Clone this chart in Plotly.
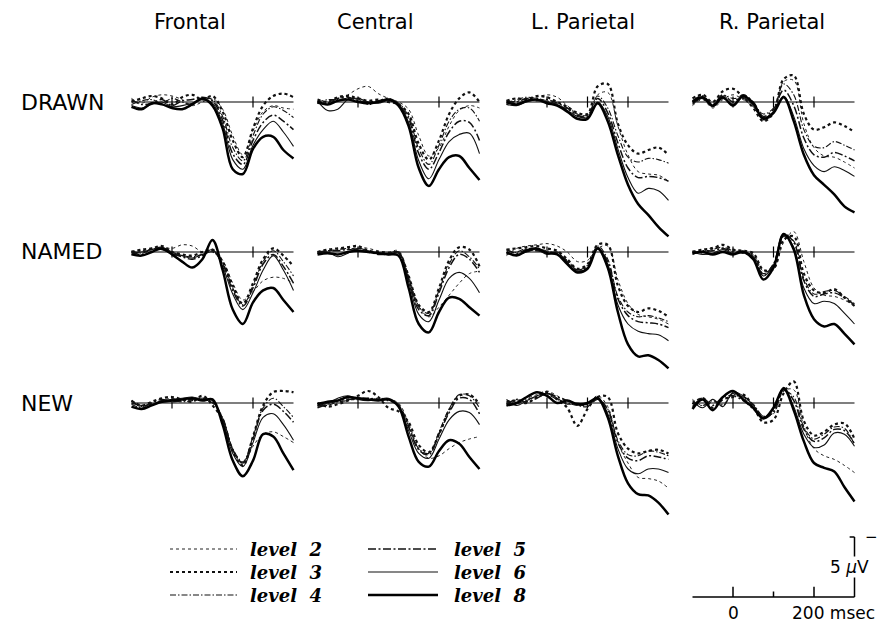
import plotly.graph_objects as go

# ---------------- data ----------------
times = [-100, -75, -50, -25, 0, 25, 50, 75, 100, 125, 150, 175, 200, 225, 250, 275, 300]
regions = ["Frontal", "Central", "L. Parietal", "R. Parietal"]
conditions = ["DRAWN", "NAMED", "NEW"]
levels = ["level 2", "level 3", "level 4", "level 5", "level 6", "level 8"]

# µV, positive plotted downward; order: level 2, 3, 4, 5, 6, 8
frontal_drawn = [
    [-0.3, 0.1, -0.4, -0.6, -0.5, -0.2, 0.3, 0.0, -0.3, 0.6, 2.8, 4.4, 2.4, 0.8, 0.3, 0.5, 0.6],
    [0.0, -0.3, -0.5, -0.3, 0.2, -0.4, -0.6, -0.2, -0.5, 0.8, 3.2, 4.6, 2.2, 0.3, -0.5, -0.7, -0.4],
    [0.2, -0.1, -0.2, 0.1, -0.3, 0.0, 0.2, -0.3, -0.2, 1.2, 3.8, 4.9, 2.8, 1.0, 0.4, 0.7, 1.3],
    [-0.2, 0.2, 0.1, -0.2, 0.3, -0.1, -0.2, -0.4, -0.1, 1.5, 4.3, 5.2, 3.2, 1.7, 1.1, 1.6, 2.3],
    [0.3, 0.5, 0.2, 0.0, 0.4, 0.3, 0.1, -0.2, 0.1, 1.8, 4.8, 5.6, 3.6, 2.3, 1.6, 2.5, 3.7],
    [0.4, 0.6, 0.1, 0.2, 0.5, 0.6, 0.2, -0.3, 0.3, 2.2, 5.6, 6.0, 3.9, 2.9, 2.9, 4.0, 4.7],
]
central_drawn = [
    [0.1, -0.1, -0.3, -0.6, -1.1, -1.3, -0.7, -0.3, 0.0, 0.6, 2.8, 4.5, 3.8, 2.0, 0.7, 0.3, 0.5],
    [-0.2, 0.0, -0.4, -0.5, -0.3, -0.1, -0.2, 0.0, 0.2, 1.0, 3.5, 4.8, 3.2, 1.0, -0.3, -0.8, 0.0],
    [0.0, -0.2, -0.2, -0.3, -0.2, 0.2, 0.0, -0.2, 0.1, 1.2, 3.9, 5.2, 3.6, 1.6, 0.6, 0.5, 1.6],
    [0.1, 0.1, -0.3, -0.4, -0.1, 0.0, -0.1, -0.3, 0.2, 1.4, 4.3, 5.6, 4.2, 2.5, 1.6, 1.7, 3.2],
    [-0.1, 0.7, 0.6, -0.2, -0.3, 0.0, 0.1, -0.1, 0.2, 1.7, 4.9, 6.4, 4.8, 3.3, 2.7, 2.6, 4.3],
    [0.0, 0.2, -0.1, -0.2, 0.0, 0.1, 0.0, -0.2, 0.3, 2.0, 5.5, 7.0, 5.6, 4.6, 4.5, 5.5, 6.5],
]
lpar_drawn = [
    [0.2, -0.1, -0.3, -0.4, -0.6, -0.4, 0.3, 1.0, 1.3, -0.6, -0.8, 2.0, 4.4, 5.8, 6.0, 6.1, 6.6],
    [-0.1, -0.3, -0.2, -0.5, -0.4, 0.0, 0.4, 0.9, 1.0, -1.3, -1.5, 1.8, 3.6, 4.3, 4.0, 3.8, 4.4],
    [0.1, -0.2, -0.4, -0.3, -0.1, 0.2, 0.6, 1.0, 1.1, -0.5, 0.5, 2.8, 4.6, 5.0, 4.7, 4.8, 5.1],
    [-0.1, 0.0, -0.3, -0.1, -0.2, 0.1, 0.5, 1.1, 1.2, -0.3, 0.9, 3.4, 5.5, 6.3, 6.2, 6.3, 6.6],
    [0.2, 0.3, 0.0, -0.2, 0.0, 0.2, 0.7, 1.2, 1.3, 0.0, 1.2, 3.9, 6.3, 7.6, 7.2, 7.4, 8.2],
    [0.0, 0.2, -0.1, -0.2, 0.1, 0.3, 0.8, 1.4, 1.4, 0.1, 1.6, 4.4, 6.9, 8.5, 9.4, 10.4, 11.2],
]
rpar_drawn = [
    [0.3, -0.2, 0.5, -0.2, -0.6, -0.2, 0.4, 1.5, 1.0, -1.7, -1.8, 1.8, 3.8, 4.5, 4.6, 5.0, 5.5],
    [-0.3, -0.6, 0.0, -0.9, -1.1, -0.4, 0.5, 1.6, 0.9, -1.9, -2.2, 1.0, 2.3, 2.1, 1.7, 2.0, 2.5],
    [0.1, -0.3, 0.3, -0.5, -0.3, -0.3, 0.2, 1.0, 0.5, -1.5, -0.6, 2.3, 3.7, 3.8, 3.3, 3.6, 4.0],
    [-0.1, -0.5, 0.2, -0.6, 0.0, -0.6, 0.0, 1.2, 0.6, -1.0, 0.3, 3.0, 4.4, 4.6, 4.2, 4.5, 4.9],
    [0.2, -0.3, 0.4, -0.3, 0.2, -0.4, 0.3, 1.3, 0.8, -0.5, 1.2, 3.9, 5.3, 5.8, 5.4, 5.7, 6.2],
    [0.0, -0.4, 0.3, -0.4, 0.3, -0.5, 0.1, 1.4, 0.9, -0.4, 1.6, 4.4, 6.1, 6.9, 7.7, 8.7, 9.2],
]
frontal_named = [
    [0.2, -0.1, -0.2, -0.4, -0.3, -0.6, -0.5, 0.0, -0.1, 0.7, 2.6, 4.0, 3.3, 2.4, 2.1, 2.2, 2.6],
    [0.0, -0.2, -0.3, -0.5, 0.0, 0.2, 0.3, 0.0, -0.2, 0.8, 2.8, 4.3, 2.6, 0.6, -0.3, 0.3, 1.2],
    [-0.1, 0.1, -0.2, -0.3, 0.2, 0.3, 0.4, 0.2, 0.0, 0.9, 3.0, 4.4, 2.8, 0.8, -0.1, 0.8, 2.0],
    [0.0, 0.2, -0.3, -0.2, 0.1, 0.4, 0.6, 0.3, -0.1, 1.0, 3.2, 4.5, 3.0, 1.0, 0.2, 1.2, 2.6],
    [0.1, 0.0, -0.2, -0.4, 0.0, 0.3, 0.5, 0.2, -0.2, 1.2, 3.5, 4.8, 3.4, 1.5, 0.3, 1.5, 3.2],
    [0.2, 0.3, 0.0, -0.3, 0.2, 0.8, 1.3, 0.6, -1.0, 1.5, 4.8, 6.0, 4.2, 3.2, 3.0, 4.0, 5.0],
]
central_named = [
    [0.1, 0.0, -0.3, -0.2, -0.4, -0.3, -0.1, 0.0, -0.1, 2.0, 4.5, 5.4, 4.6, 3.6, 2.6, 1.8, 1.6],
    [0.0, -0.2, -0.3, -0.4, -0.5, -0.1, 0.0, 0.1, 0.1, 2.0, 4.4, 5.0, 3.0, 0.7, -0.4, -0.2, 1.2],
    [0.1, -0.1, -0.2, -0.3, -0.2, 0.0, 0.1, 0.1, 0.0, 2.2, 4.6, 5.1, 3.2, 1.0, -0.1, 0.4, 1.4],
    [0.0, -0.1, -0.1, -0.2, -0.1, 0.0, 0.2, 0.2, 0.1, 2.3, 4.8, 5.3, 3.4, 1.3, 0.2, 0.6, 1.7],
    [0.1, 0.0, 0.4, 0.1, -0.3, -0.1, 0.1, 0.1, 0.0, 2.5, 5.2, 5.8, 4.0, 2.2, 1.7, 2.2, 3.4],
    [0.2, 0.1, 0.2, 0.0, -0.1, 0.0, 0.1, 0.2, 0.3, 3.0, 6.0, 6.7, 5.0, 3.8, 3.9, 4.6, 5.3],
]
lpar_named = [
    [0.3, -0.3, -0.5, -0.6, -0.7, -0.5, 0.0, 0.8, 0.7, -0.3, -0.5, 2.3, 4.3, 5.2, 5.4, 5.6, 6.0],
    [-0.2, -0.3, -0.4, -0.5, -0.3, -0.1, 0.6, 1.4, 1.0, -0.6, -0.6, 2.8, 4.5, 5.0, 4.7, 4.9, 5.4],
    [0.2, 0.0, -0.3, -0.2, -0.1, 0.2, 0.7, 1.5, 1.1, -0.5, 0.6, 3.7, 5.0, 5.4, 5.3, 5.5, 5.8],
    [-0.2, 0.1, -0.2, -0.1, 0.0, 0.1, 0.8, 1.5, 1.2, -0.3, 0.8, 3.9, 5.3, 5.8, 5.9, 6.0, 6.3],
    [0.1, 0.2, 0.0, -0.2, 0.2, 0.0, 0.9, 1.6, 1.3, -0.4, 1.0, 4.4, 6.0, 6.6, 6.8, 6.9, 7.4],
    [0.0, 0.3, -0.1, -0.3, 0.1, 0.2, 1.0, 1.7, 1.4, -0.3, 1.3, 5.0, 7.7, 8.7, 8.6, 9.0, 9.7],
]
rpar_named = [
    [0.1, 0.0, -0.4, -0.3, -0.2, 0.0, 0.2, 1.6, 1.5, -0.8, -1.7, 0.8, 3.0, 3.6, 3.7, 4.0, 4.5],
    [0.0, -0.2, -0.3, -0.6, -0.2, -0.1, 0.1, 1.5, 1.4, -1.0, -1.3, 1.8, 3.2, 3.4, 3.1, 3.8, 4.5],
    [-0.1, 0.1, -0.2, -0.4, -0.1, 0.0, 0.3, 1.8, 1.0, -1.3, -0.9, 2.2, 3.5, 3.3, 3.2, 3.7, 4.3],
    [0.2, -0.1, -0.1, -0.3, 0.0, 0.1, 0.4, 1.9, 1.0, -1.5, -0.8, 2.4, 3.7, 3.5, 3.4, 3.8, 4.4],
    [0.0, 0.2, 0.1, -0.2, 0.1, -0.1, 0.5, 2.0, 1.1, -1.4, -0.4, 3.0, 4.3, 4.1, 4.3, 5.1, 6.0],
    [0.1, 0.0, 0.2, 0.0, 0.2, 0.0, 0.6, 2.3, 1.3, -1.5, -0.2, 3.6, 5.6, 6.2, 6.0, 6.8, 7.7],
]
frontal_new = [
    [0.0, 0.3, 0.1, -0.2, -0.4, -0.2, -0.3, -0.4, -0.1, 1.3, 3.9, 5.1, 3.6, 2.6, 2.4, 2.8, 3.3],
    [-0.2, 0.2, -0.1, -0.4, -0.5, -0.3, -0.1, -0.6, 0.2, 1.4, 4.0, 5.2, 2.8, 0.2, -0.9, -1.0, -0.9],
    [0.1, 0.4, 0.2, -0.1, -0.2, -0.1, -0.2, -0.3, 0.0, 1.2, 3.8, 4.9, 2.8, 0.4, -0.4, 0.3, 1.2],
    [-0.2, 0.3, 0.0, -0.3, -0.1, -0.2, -0.3, -0.4, -0.1, 1.3, 3.9, 5.0, 3.0, 0.6, 0.1, 0.7, 1.6],
    [0.0, 0.2, 0.1, -0.2, -0.3, -0.4, -0.5, -0.3, -0.2, 1.5, 4.2, 5.3, 3.3, 1.2, 0.9, 1.8, 3.1],
    [0.3, 0.5, 0.2, -0.1, -0.2, -0.3, -0.4, -0.2, -0.3, 1.8, 4.8, 6.1, 4.8, 2.6, 2.8, 4.2, 5.6],
]
central_new = [
    [0.3, 0.1, -0.3, -0.4, -0.3, -0.3, -0.4, -0.3, 0.0, 1.7, 3.8, 4.6, 4.4, 3.8, 3.3, 3.0, 2.8],
    [0.0, 0.3, 0.1, -0.2, -0.6, -1.0, -0.5, 0.4, 0.7, 1.6, 3.5, 4.1, 2.6, 0.6, -0.6, -0.7, 0.1],
    [0.2, 0.2, -0.1, -0.2, -0.4, -0.4, -0.3, -0.3, 0.1, 1.9, 3.8, 4.2, 2.4, 0.5, -0.7, -0.6, 0.4],
    [0.4, 0.1, -0.2, -0.3, -0.3, -0.4, -0.3, -0.2, 0.2, 2.0, 3.9, 4.3, 2.6, 0.8, -0.4, -0.3, 0.9],
    [0.2, 0.0, -0.4, -0.6, -0.3, -0.2, -0.3, -0.4, 0.2, 2.3, 4.2, 4.6, 3.0, 1.4, 0.7, 0.8, 1.8],
    [0.1, -0.1, -0.2, -0.5, -0.4, -0.3, -0.2, -0.3, 0.3, 2.8, 4.9, 5.3, 4.0, 3.1, 3.4, 4.5, 5.5],
]
lpar_new = [
    [0.2, -0.2, -0.4, -0.7, -1.0, -0.6, -0.2, 0.2, 0.1, -0.6, 0.3, 3.3, 5.0, 6.2, 6.3, 6.5, 7.1],
    [-0.1, -0.2, 0.0, -0.5, -0.9, -0.3, 0.4, 1.9, 0.5, -0.5, -0.5, 2.5, 3.8, 4.2, 4.0, 3.9, 4.2],
    [0.0, 0.1, -0.3, -0.5, -0.7, -0.3, 0.0, 0.2, 0.3, -0.3, 0.5, 3.1, 4.3, 4.4, 4.0, 4.1, 4.4],
    [0.1, -0.3, -0.1, -0.4, -0.8, -0.5, -0.2, 0.1, 0.2, -0.4, 0.6, 3.3, 4.6, 4.8, 4.4, 4.5, 4.7],
    [-0.3, 0.2, -0.2, -0.6, -0.8, -0.4, 0.1, 0.0, 0.1, -0.5, 0.9, 3.8, 5.5, 5.9, 5.5, 5.5, 5.8],
    [0.2, 0.0, -0.5, -0.9, -0.6, 0.0, -0.2, 0.1, 0.0, -0.4, 1.2, 4.4, 6.7, 7.6, 7.7, 8.3, 9.3],
]
rpar_new = [
    [-0.3, 0.2, -0.1, 0.1, -0.7, -0.4, 0.2, 1.1, 0.9, -1.0, -1.1, 2.0, 3.8, 4.4, 4.7, 5.2, 5.8],
    [0.1, -0.4, 0.4, -0.3, -0.5, -0.7, 0.3, 1.6, 1.4, -0.8, -1.8, 1.5, 2.7, 2.4, 1.8, 1.7, 3.0],
    [0.0, 0.2, -0.2, 0.2, -0.8, -0.5, 0.1, 1.1, 0.8, -1.0, -0.5, 2.0, 3.0, 2.6, 2.0, 2.1, 3.5],
    [0.3, -0.4, 0.2, -0.5, -0.6, -0.2, 0.5, 1.3, 0.7, -1.1, -0.2, 2.2, 3.2, 2.9, 2.2, 2.3, 3.4],
    [-0.2, 0.4, -0.3, 0.3, -0.9, -0.6, 0.2, 1.2, 0.5, -1.3, 0.3, 2.6, 3.7, 3.5, 2.5, 2.6, 3.6],
    [0.5, -0.3, 0.6, -0.5, -1.0, -0.3, 0.4, 1.3, 0.4, -1.2, 0.6, 3.2, 5.0, 5.4, 5.7, 7.0, 8.2],
]

panels = [
    [frontal_drawn, central_drawn, lpar_drawn, rpar_drawn],
    [frontal_named, central_named, lpar_named, rpar_named],
    [frontal_new, central_new, lpar_new, rpar_new],
]
baseline_ticks = [[0, 200], [0, 200], [0, 100, 200], [0, 100, 200]]
scale_ticks = [0, 100, 200]
scale_uv = 5

# ---------------- styles / layout geometry ----------------
W, H = 888, 622
PX_PER_MS = 0.405
PX_PER_UV = 12.0
col_zero_px = [172, 358, 547, 733]
row_base_px = [102, 252, 403]
XR = [-110, 310]
Y_TOP_UV, Y_BOT_UV = -4.0, 12.0

level_dash = ["dot", "dot", "6px,2px,1.5px,2px", "8px,2.5px,2px,2.5px", "solid", "solid"]
level_width = [1.0, 2.2, 1.1, 1.5, 1.1, 2.5]
level_color = ["#222", "#111", "#111", "#111", "#111", "#000"]


def xdom(x0):
    return [(x0 + XR[0] * PX_PER_MS) / W, (x0 + XR[1] * PX_PER_MS) / W]


def ydom(b, top_uv, bot_uv):
    top_px = b + top_uv * PX_PER_UV
    bot_px = b + bot_uv * PX_PER_UV
    return [1 - bot_px / H, 1 - top_px / H]


fig = go.Figure()
layout_axes = {}

for r in range(3):
    for c in range(4):
        idx = r * 4 + c + 1
        sfx = "" if idx == 1 else str(idx)
        xa, ya = "x" + sfx, "y" + sfx
        layout_axes["xaxis" + sfx] = dict(domain=xdom(col_zero_px[c]), range=XR, anchor=ya,
                                          visible=False, fixedrange=True)
        layout_axes["yaxis" + sfx] = dict(domain=ydom(row_base_px[r], Y_TOP_UV, Y_BOT_UV),
                                          range=[Y_BOT_UV, Y_TOP_UV], anchor=xa,
                                          visible=False, fixedrange=True)
        # baseline + ticks
        bx, by = [times[0], times[-1], None], [0, 0, None]
        for t in baseline_ticks[c]:
            bx += [t, t, None]
            by += [-0.45, 0.45, None]
        fig.add_trace(go.Scatter(x=bx, y=by, xaxis=xa, yaxis=ya, mode="lines",
                                 line=dict(color="#000", width=1.2), showlegend=False,
                                 hoverinfo="skip"))
        for k, series in enumerate(panels[r][c]):
            fig.add_trace(go.Scatter(
                x=times, y=series, xaxis=xa, yaxis=ya, mode="lines",
                name=levels[k], showlegend=False,
                line=dict(color=level_color[k], width=level_width[k], dash=level_dash[k],
                          shape="spline", smoothing=1.0)))

# scale bar subplot (shares R. Parietal time scale)
sb_base_px = 597
layout_axes["xaxis13"] = dict(domain=xdom(col_zero_px[3]), range=XR, anchor="y13",
                              visible=False, fixedrange=True)
layout_axes["yaxis13"] = dict(domain=ydom(sb_base_px, -6.5, 2.0), range=[2.0, -6.5],
                              anchor="x13", visible=False, fixedrange=True)
sx, sy = [times[0], times[-1], None], [0, 0, None]
for t in scale_ticks:
    h = 0.45 if t == 100 else 0.85
    sx += [t, t, None]
    sy += [0, -h, None]
sx += [times[-1], times[-1], None, times[-1] - 12, times[-1]]
sy += [0, -scale_uv, None, -scale_uv, -scale_uv]
fig.add_trace(go.Scatter(x=sx, y=sy, xaxis="x13", yaxis="y13", mode="lines",
                         line=dict(color="#000", width=1.5), showlegend=False, hoverinfo="skip"))

annotations = []
label_font = dict(family="DejaVu Sans", size=21, color="#000")
col_center_px = [190, 375, 583, 772]
for c, name in enumerate(regions):
    annotations.append(dict(text=name, x=col_center_px[c] / W, y=1 - 22 / H, xref="paper",
                            yref="paper", showarrow=False, xanchor="center", yanchor="middle",
                            font=label_font))
for r, name in enumerate(conditions):
    annotations.append(dict(text=name, x=19 / W, y=1 - (row_base_px[r]) / H, xref="paper",
                            yref="paper", showarrow=False, xanchor="left", yanchor="middle",
                            font=dict(family="DejaVu Sans", size=22, color="#000")))

# scale bar labels
annotations += [
    dict(text="5 <i>µ</i>V", x=times[-1], y=-2.5, xref="x13", yref="y13", xanchor="right",
         yanchor="middle", xshift=15, showarrow=False, bgcolor="white", borderpad=0,
         font=dict(family="DejaVu Sans", size=17, color="#000")),
    dict(text="−", x=times[-1], y=-scale_uv, xref="x13", yref="y13", xanchor="left",
         yanchor="middle", xshift=8, showarrow=False,
         font=dict(family="DejaVu Sans", size=15, color="#000")),
    dict(text="0", x=0, y=1.3, xref="x13", yref="y13", xanchor="center", yanchor="middle",
         showarrow=False, font=dict(family="DejaVu Sans", size=17, color="#000")),
    dict(text="200 msec", x=200, y=1.3, xref="x13", yref="y13", xanchor="left",
         yanchor="middle", xshift=-24, showarrow=False,
         font=dict(family="DejaVu Sans", size=17, color="#000")),
]

# custom legend (two columns)
shapes = []
leg_cols = [(170, 237, 248), (368, 438, 452)]
leg_rows_px = [549, 572, 595]
for k, name in enumerate(levels):
    ci, ri = k // 3, k % 3
    x1, x2, xt = leg_cols[ci]
    yp = 1 - leg_rows_px[ri] / H
    shapes.append(dict(type="line", xref="paper", yref="paper", x0=x1 / W, x1=x2 / W,
                       y0=yp, y1=yp,
                       line=dict(color=level_color[k], width=level_width[k],
                                 dash=level_dash[k])))
    annotations.append(dict(text="<b><i>" + name.replace(" ", "  ") + "</i></b>",
                            x=xt / W, y=yp, xref="paper", yref="paper", xanchor="left",
                            yanchor="middle", showarrow=False,
                            font=dict(family="DejaVu Serif", size=18, color="#000")))

fig.update_layout(
    width=W, height=H, margin=dict(l=0, r=0, t=0, b=0),
    paper_bgcolor="white", plot_bgcolor="rgba(0,0,0,0)",
    showlegend=False, annotations=annotations, shapes=shapes,
    **layout_axes,
)

fig.write_html("out.html", config=dict(displayModeBar=False))
